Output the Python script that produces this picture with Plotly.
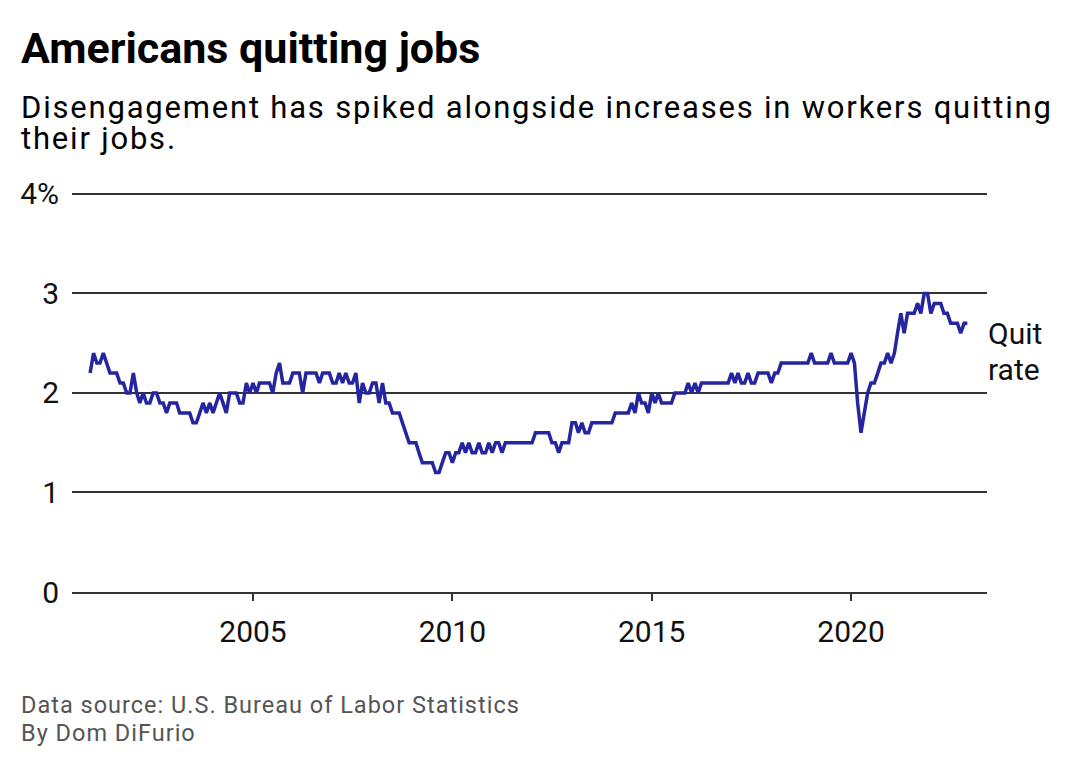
import pandas as pd
import plotly.graph_objects as go

# monthly quit rate (%), Dec 2000 .. Dec 2022
start_month = "2000-12-01"
quit_rate = [
    2.2,
    2.4, 2.3, 2.3, 2.4, 2.3, 2.2, 2.2, 2.2, 2.1, 2.1, 2.0, 2.0,  # 2001
    2.2, 2.0, 1.9, 2.0, 1.9, 1.9, 2.0, 2.0, 1.9, 1.9, 1.8, 1.9,  # 2002
    1.9, 1.9, 1.8, 1.8, 1.8, 1.8, 1.7, 1.7, 1.8, 1.9, 1.8, 1.9,  # 2003
    1.8, 1.9, 2.0, 1.9, 1.8, 2.0, 2.0, 2.0, 1.9, 1.9, 2.1, 2.0,  # 2004
    2.1, 2.0, 2.1, 2.1, 2.1, 2.1, 2.0, 2.2, 2.3, 2.1, 2.1, 2.1,  # 2005
    2.2, 2.2, 2.2, 2.0, 2.2, 2.2, 2.2, 2.2, 2.1, 2.2, 2.2, 2.2,  # 2006
    2.1, 2.1, 2.2, 2.1, 2.2, 2.1, 2.1, 2.2, 1.9, 2.1, 2.0, 2.0,  # 2007
    2.1, 2.1, 1.9, 2.1, 1.9, 1.9, 1.8, 1.8, 1.8, 1.7, 1.6, 1.5,  # 2008
    1.5, 1.5, 1.4, 1.3, 1.3, 1.3, 1.3, 1.2, 1.2, 1.3, 1.4, 1.4,  # 2009
    1.3, 1.4, 1.4, 1.5, 1.4, 1.5, 1.4, 1.4, 1.5, 1.4, 1.4, 1.5,  # 2010
    1.4, 1.5, 1.5, 1.4, 1.5, 1.5, 1.5, 1.5, 1.5, 1.5, 1.5, 1.5,  # 2011
    1.5, 1.6, 1.6, 1.6, 1.6, 1.6, 1.5, 1.5, 1.4, 1.5, 1.5, 1.5,  # 2012
    1.7, 1.7, 1.6, 1.7, 1.6, 1.6, 1.7, 1.7, 1.7, 1.7, 1.7, 1.7,  # 2013
    1.7, 1.8, 1.8, 1.8, 1.8, 1.8, 1.9, 1.8, 2.0, 1.9, 1.9, 1.8,  # 2014
    2.0, 1.9, 2.0, 1.9, 1.9, 1.9, 1.9, 2.0, 2.0, 2.0, 2.0, 2.1,  # 2015
    2.0, 2.1, 2.0, 2.1, 2.1, 2.1, 2.1, 2.1, 2.1, 2.1, 2.1, 2.1,  # 2016
    2.2, 2.1, 2.2, 2.1, 2.1, 2.2, 2.1, 2.1, 2.2, 2.2, 2.2, 2.2,  # 2017
    2.1, 2.2, 2.2, 2.3, 2.3, 2.3, 2.3, 2.3, 2.3, 2.3, 2.3, 2.3,  # 2018
    2.4, 2.3, 2.3, 2.3, 2.3, 2.3, 2.4, 2.3, 2.3, 2.3, 2.3, 2.3,  # 2019
    2.4, 2.3, 1.9, 1.6, 1.8, 2.0, 2.1, 2.1, 2.2, 2.3, 2.3, 2.4,  # 2020
    2.3, 2.4, 2.6, 2.8, 2.6, 2.8, 2.8, 2.8, 2.9, 2.8, 3.0, 3.0,  # 2021
    2.8, 2.9, 2.9, 2.9, 2.8, 2.8, 2.7, 2.7, 2.7, 2.6, 2.7, 2.7,  # 2022
]

x_ticks = ["2005-01-01", "2010-01-01", "2015-01-01", "2020-01-01"]
x_labels = ["2005", "2010", "2015", "2020"]
y_ticks = [0, 1, 2, 3, 4]
y_labels = ["0", "1", "2", "3", "4%"]

months = pd.date_range(start_month, periods=len(quit_rate), freq="MS")

FONT = "Roboto"
GRID = "#333333"
INK = "#111111"

fig = go.Figure()
fig.add_trace(
    go.Scatter(
        x=months,
        y=quit_rate,
        mode="lines",
        line=dict(color="#2525a0", width=3.5),
        hoverinfo="x+y",
        showlegend=False,
    )
)

# plot area: rows 184..592, y=4 sits at row 194
fig.update_layout(
    width=1080,
    height=770,
    margin=dict(l=72, r=93, t=184, b=178),
    paper_bgcolor="white",
    plot_bgcolor="white",
    font=dict(family=FONT, color=INK),
)

fig.update_xaxes(
    range=["2000-06-18", "2023-05-30"],
    tickvals=x_ticks,
    ticktext=x_labels,
    ticks="outside",
    ticklen=7,
    tickwidth=1.5,
    tickcolor=GRID,
    ticklabelstandoff=5,
    tickfont=dict(size=30, family=FONT, color=INK),
    showgrid=False,
    showline=True,
    linecolor=GRID,
    linewidth=1.5,
    zeroline=False,
)
fig.update_yaxes(
    range=[0, 4.1],
    tickvals=y_ticks,
    ticktext=y_labels,
    ticks="",
    ticklabelstandoff=12,
    tickfont=dict(size=30, family=FONT, color=INK),
    showgrid=True,
    gridcolor=GRID,
    gridwidth=1.5,
    zeroline=False,
    showline=False,
)

def px_y(y):
    # pixel row -> paper y (plot area spans rows 184..592)
    return (592 - y) / 408

def px_x(x):
    return (x - 72) / 915

def styled(txt, style):
    return '<span style="%s">%s</span>' % (style, txt)

# subtitle: glyphs at 31px, line pitch from the 23.85px base size (1.3 em -> 31px)
subtitle = styled("Disengagement has spiked alongside increases in workers quitting",
                  "font-size:31px;letter-spacing:1.8px") + "<br>" + \
           styled("their jobs.", "font-size:31px;letter-spacing:1.8px")

texts = [
    ("Americans quitting jobs", 20, 48, 43, "#000000", "bold"),
    (subtitle, 20, 123.3, 23.85, "#000000", "normal"),
    (styled("Data source: U.S. Bureau of Labor Statistics", "letter-spacing:1px"), 20, 705, 23.5, "#555555", "normal"),
    (styled("By Dom DiFurio", "letter-spacing:1px"), 20, 733, 23.5, "#555555", "normal"),
    ("Quit", 987, 333, 30, INK, "normal"),
    ("rate", 987, 369, 30, INK, "normal"),
]
for txt, x, y, size, color, weight in texts:
    fig.add_annotation(
        text=txt,
        xref="paper", yref="paper",
        x=px_x(x), y=px_y(y),
        xanchor="left", yanchor="middle", align="left",
        showarrow=False,
        borderpad=0,
        font=dict(family=FONT, size=size, color=color, weight=weight),
    )

fig.write_html(
    "out.html",
    config={"displayModeBar": False},
    post_script="document.body.style.margin='0px';",
)
